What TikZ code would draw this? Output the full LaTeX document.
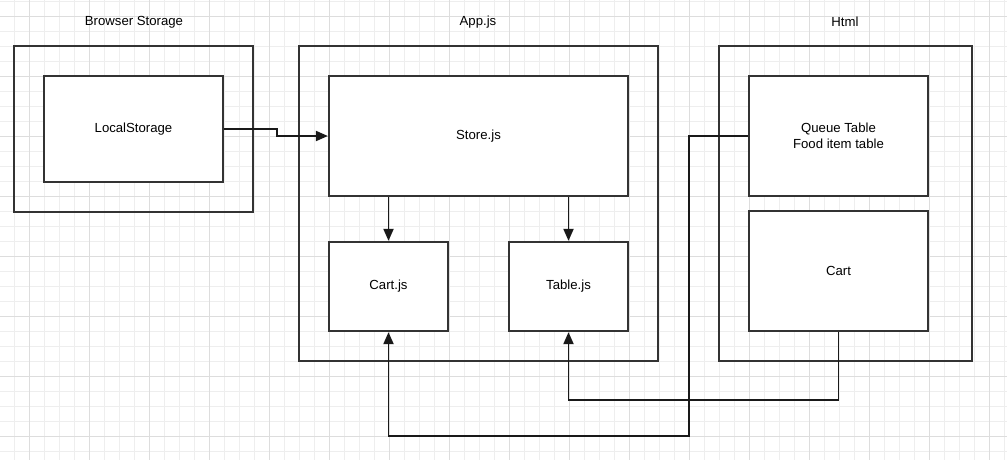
\documentclass[tikz,border=0pt]{standalone}
\usepackage{fontspec}
\setmainfont{Liberation Sans}
\usetikzlibrary{arrows.meta}
\definecolor{linegray}{HTML}{333333}
\definecolor{gridminor}{HTML}{EEEEEE}
\definecolor{gridmajor}{HTML}{DDDDDD}
\tikzset{
  outerbox/.style={draw=linegray, line width=1.3pt, inner sep=0pt},
  innerbox/.style={draw=linegray, line width=1.3pt, fill=white, inner sep=0pt, align=center},
  conn/.style={draw=black!90, line width=1.1pt, -{Triangle[length=2.4mm, width=2mm]}}
}
\begin{document}
\begin{tikzpicture}[x=0.02cm, y=-0.02cm, font=\fontsize{7.5}{9.1}\selectfont]
  \useasboundingbox (0,0) rectangle (1007,460);
  \fill[white] (0,0) rectangle (1007,460);
  % grid
  \foreach \gx in {14,29,...,1004} \draw[gridminor, line width=0.5pt] (\gx,0) -- (\gx,460);
  \foreach \gy in {1,16,...,451} \draw[gridminor, line width=0.5pt] (0,\gy) -- (1007,\gy);
  \foreach \gx in {29,89,...,989} \draw[gridmajor, line width=0.5pt] (\gx,0) -- (\gx,460);
  \foreach \gy in {16,76,...,436} \draw[gridmajor, line width=0.5pt] (0,\gy) -- (1007,\gy);

  \node (tbs) at (134,22) {Browser Storage};
  \node (tapp) at (478,22) {App.js};
  \node (thtml) at (845,22) {Html};

  \node[outerbox, minimum width=4.78cm, minimum height=3.32cm] (bs) at (133.5,129) {};
  \node[outerbox, minimum width=7.18cm, minimum height=6.30cm] (app) at (478.5,203.5) {};
  \node[outerbox, minimum width=5.06cm, minimum height=6.30cm] (html) at (845.5,203.5) {};

  \node[innerbox, minimum width=3.58cm, minimum height=2.12cm] (ls) at (133.5,129) {LocalStorage};
  \node[innerbox, minimum width=5.98cm, minimum height=2.40cm] (store) at (478.5,136) {Store.js};
  \node[innerbox, minimum width=2.38cm, minimum height=1.78cm] (cart) at (388.5,286.5) {Cart.js};
  \node[innerbox, minimum width=2.38cm, minimum height=1.78cm] (table) at (568.5,286.5) {Table.js};
  \node[innerbox, minimum width=3.58cm, minimum height=2.40cm] (queue) at (838.5,136) {Queue Table\\Food item table};
  \node[innerbox, minimum width=3.58cm, minimum height=2.40cm] (hcart) at (838.5,271) {Cart};

  \coordinate (qdown) at (689,436);

  \draw[conn] (ls.east) -- ++(53,0) |- (store.west);
  \draw[conn] (store.south -| cart.north) -- (cart.north);
  \draw[conn] (store.south -| table.north) -- (table.north);
  \draw[conn] (queue.west) -| (qdown) -| (cart.south);
  \draw[conn] (hcart.south) -- ++(0,68) -| (table.south);
\end{tikzpicture}
\end{document}
